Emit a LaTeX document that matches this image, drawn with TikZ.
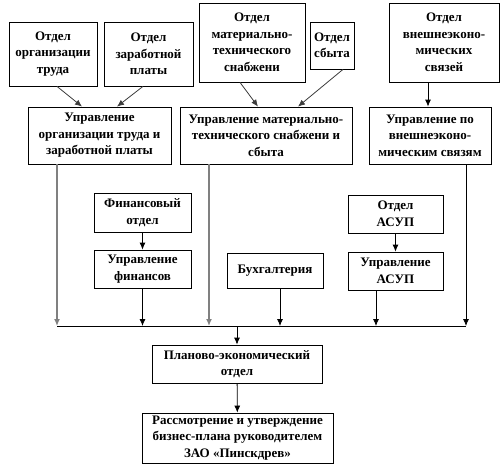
\documentclass[tikz,border=0pt]{standalone}
\definecolor{linegray}{RGB}{128,128,128}
\definecolor{darkline}{RGB}{60,60,60}
\usepackage{fontspec}
\setmainfont{Liberation Serif}
\usepackage{tikz}
\usetikzlibrary{arrows.meta,positioning,calc}

\begin{document}
\begin{tikzpicture}[x=1pt,y=-1pt,
    unit/.style={draw, line width=0.8pt, inner sep=0pt, align=center,
        font=\fontsize{13}{16.5}\selectfont\bfseries},
    arr/.style={-{Latex[length=7pt,width=6pt]}, line width=0.8pt},
    slant/.style={arr, draw=darkline},
    feed/.style={arr, draw=linegray, line width=1.3pt}]
    \useasboundingbox (0,0) rectangle (504,472);

    \node[unit, minimum width=88pt, minimum height=64pt] (otdTrud) at (53,54) {Отдел\\организации\\труда};
    \node[unit, minimum width=89pt, minimum height=64pt] (otdZp) at (148.5,54) {Отдел\\заработной\\платы};
    \node[unit, minimum width=106pt, minimum height=79pt] (otdMts) at (252,42.5) {Отдел\\материально-\\технического\\снабжени};
    \node[unit, minimum width=44pt, minimum height=47pt] (otdSbyt) at (332,45.5) {Отдел\\сбыта};
    \node[unit, minimum width=110pt, minimum height=79pt] (otdVes) at (444,42.5) {Отдел\\внешнеэконо-\\мических\\связей};

    \node[unit, minimum width=143pt, minimum height=57pt] (uprTrud) at (99.5,135.5) {Управление\\организации труда и\\заработной платы};
    \node[unit, minimum width=172pt, minimum height=57pt] (uprMts) at (266,135.5) {Управление материально-\\технического снабжени и\\сбыта};
    \node[unit, minimum width=122pt, minimum height=57pt] (uprVes) at (430,135.5) {Управление по\\внешнеэконо-\\мическим связям};

    \node[unit, minimum width=97pt, minimum height=39pt] (finOtd) at (142.5,212.5) {Финансовый\\отдел};
    \node[unit, minimum width=97pt, minimum height=38pt] (uprFin) at (142.5,269) {Управление\\финансов};
    \node[unit, minimum width=96pt, minimum height=35pt] (buh) at (275,270.5) {Бухгалтерия};
    \node[unit, minimum width=95pt, minimum height=38pt] (otdAsup) at (395.5,214) {Отдел\\АСУП};
    \node[unit, minimum width=95pt, minimum height=38pt] (uprAsup) at (395.5,271) {Управление\\АСУП};

    \node[unit, minimum width=170pt, minimum height=38pt] (planOtd) at (237,364) {Планово-экономический\\отдел};
    \node[unit, minimum width=191pt, minimum height=50pt] (bizPlan) at (237.5,438) {Рассмотрение и утверждение\\бизнес-плана руководителем\\ЗАО «Пинскдрев»};

    \coordinate (busL) at (57,326);
    \coordinate (busR) at (466,326);

    \draw[slant] ([xshift=4pt]otdTrud.south) -- ([xshift=-17.5pt]uprTrud.north);
    \draw[slant] ([xshift=-5.5pt]otdZp.south) -- ([xshift=17.5pt]uprTrud.north);
    \draw[slant] ([xshift=-12pt]otdMts.south) -- ([xshift=-8pt]uprMts.north);
    \draw[slant] ([xshift=11pt]otdSbyt.south) -- ([xshift=32pt]uprMts.north);
    \draw[arr] ([xshift=-16pt]otdVes.south) -- ([xshift=-2pt]uprVes.north);

    \draw[arr] (finOtd) -- (uprFin);
    \draw[arr] (otdAsup) -- (uprAsup);

    \draw[line width=0.8pt] (busL) -- (busR);
    \draw[feed] ([xshift=-42.5pt]uprTrud.south) -- ([xshift=-42.5pt]uprTrud.south |- busL);
    \draw[feed] ([xshift=-57pt]uprMts.south) -- ([xshift=-57pt]uprMts.south |- busL);
    \draw[arr] ([xshift=36pt]uprVes.south) -- ([xshift=36pt]uprVes.south |- busL);
    \draw[arr] (uprFin.south) -- (uprFin.south |- busL);
    \draw[arr] ([xshift=5pt]buh.south) -- ([xshift=5pt]buh.south |- busL);
    \draw[arr] ([xshift=-19.5pt]uprAsup.south) -- ([xshift=-19.5pt]uprAsup.south |- busL);

    \draw[arr] (planOtd.north |- busL) -- (planOtd.north);
    \draw[arr] (planOtd) -- (bizPlan);
\end{tikzpicture}
\end{document}
